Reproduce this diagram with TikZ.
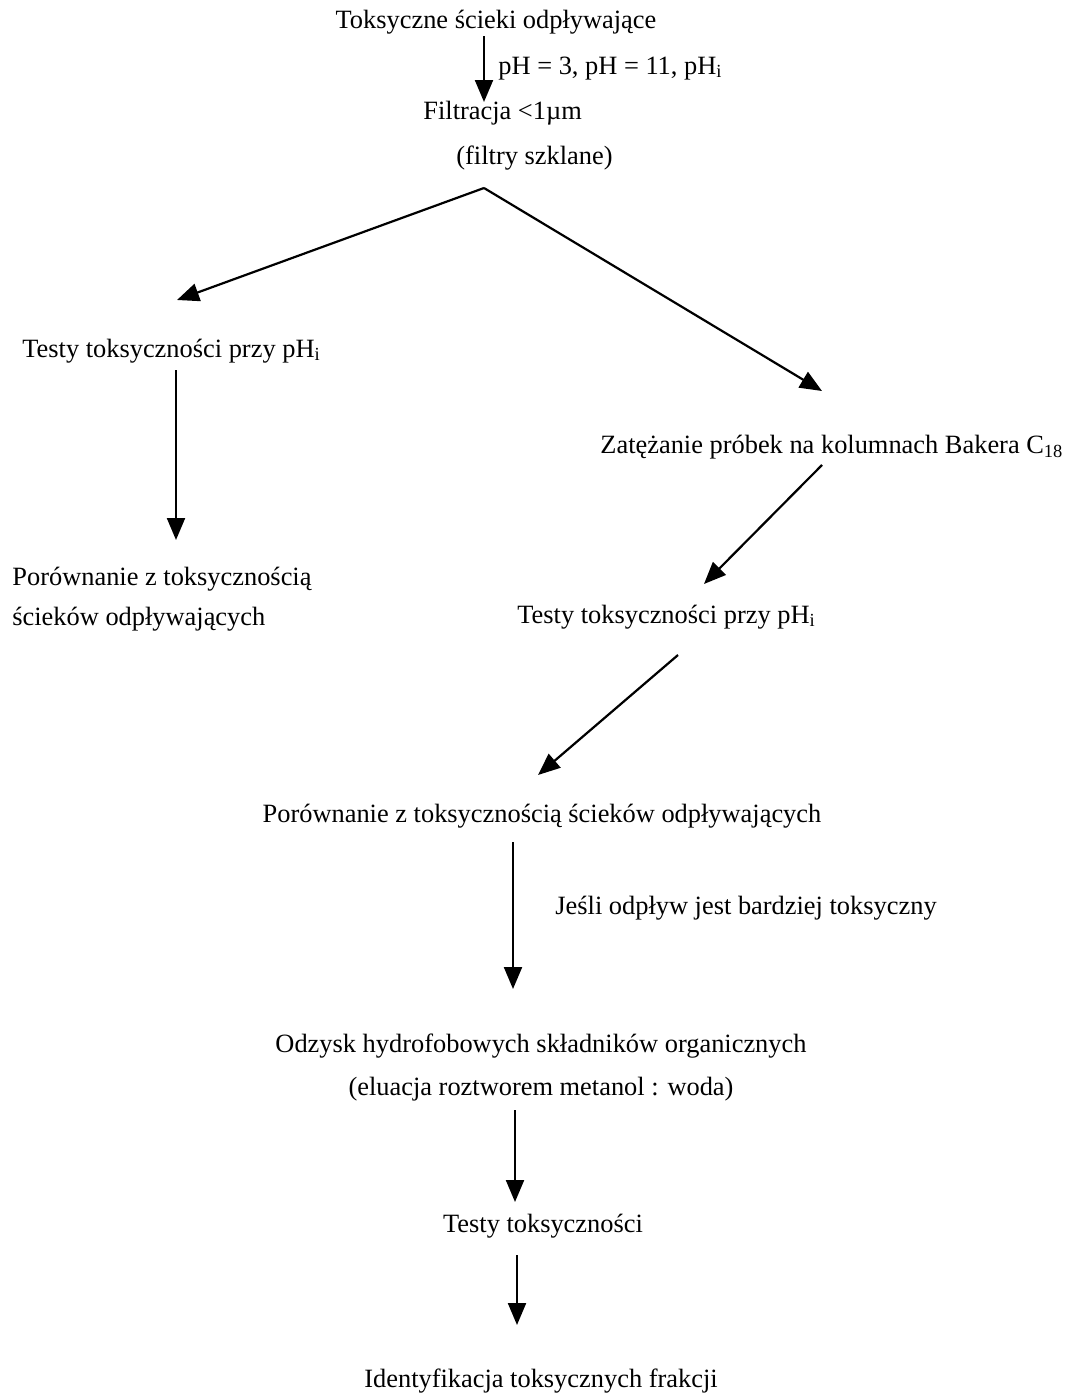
\documentclass[tikz,border=0pt]{standalone}
\usepackage{fontspec}
\setmainfont{Liberation Serif}
\usetikzlibrary{arrows.meta}
\tikzset{
  txt/.style={inner sep=0pt, font=\fontsize{13.2}{16}\selectfont},
  arr/.style={line width=1.1pt, -{Triangle[length=11pt,width=9pt]}},
}
\begin{document}
\begin{tikzpicture}[x=0.5pt,y=-0.5pt]
\useasboundingbox (0,0) rectangle (1079,1397);
% text nodes (positions in pixel units, anchored on the baseline)
\node[txt, anchor=base] (src) at (496,28) {Toksyczne ścieki odpływające};
\node[txt, anchor=base west] (ph) at (498,74) {pH = 3, pH = 11, pH\textsubscript{i}};
\node[txt, anchor=base west] (filt) at (423,119) {Filtracja <1µm};
\node[txt, anchor=base west] (glass) at (456,164) {(filtry szklane)};
\node[txt, anchor=base west] (testL) at (22,357) {Testy toksyczności przy pH\textsubscript{i}};
\node[txt, anchor=base west] (cmpL1) at (12,585) {Porównanie z toksycznością};
\node[txt, anchor=base west] (cmpL2) at (12,625) {ścieków odpływających};
\node[txt, anchor=base west] (conc) at (600,453) {Zatężanie próbek na kolumnach Bakera C\textsubscript{18}};
\node[txt, anchor=base west] (testR) at (517,623) {Testy toksyczności przy pH\textsubscript{i}};
\node[txt, anchor=base] (cmp) at (542,822) {Porównanie z toksycznością ścieków odpływających};
\node[txt, anchor=base west] (cond) at (555,914) {Jeśli odpływ jest bardziej toksyczny};
\node[txt, anchor=base] (rec) at (541,1052) {Odzysk hydrofobowych składników organicznych};
\node[txt, anchor=base] (elu) at (541,1095) {(eluacja roztworem metanol : woda)};
\node[txt, anchor=base] (tox) at (543,1232) {Testy toksyczności};
\node[txt, anchor=base] (ident) at (541,1387) {Identyfikacja toksycznych frakcji};
% connector end points
\coordinate (a1s) at (484,36);   \coordinate (a1e) at (484,102);
\coordinate (fork) at (484,188);
\coordinate (bLe) at (177,300);  \coordinate (bRe) at (822,391);
\coordinate (a2s) at (176,370);  \coordinate (a2e) at (176,540);
\coordinate (a3s) at (822,465);  \coordinate (a3e) at (704,584);
\coordinate (a4s) at (678,655);  \coordinate (a4e) at (538,775);
\coordinate (a5s) at (513,842);  \coordinate (a5e) at (513,989);
\coordinate (a6s) at (515,1110); \coordinate (a6e) at (515,1202);
\coordinate (a7s) at (517,1255); \coordinate (a7e) at (517,1325);
% connectors
\draw[arr] (a1s) -- (a1e);
\draw[arr] (fork) -- (bLe);
\draw[arr] (fork) -- (bRe);
\draw[arr] (a2s) -- (a2e);
\draw[arr] (a3s) -- (a3e);
\draw[arr] (a4s) -- (a4e);
\draw[arr] (a5s) -- (a5e);
\draw[arr] (a6s) -- (a6e);
\draw[arr] (a7s) -- (a7e);
\end{tikzpicture}
\end{document}
